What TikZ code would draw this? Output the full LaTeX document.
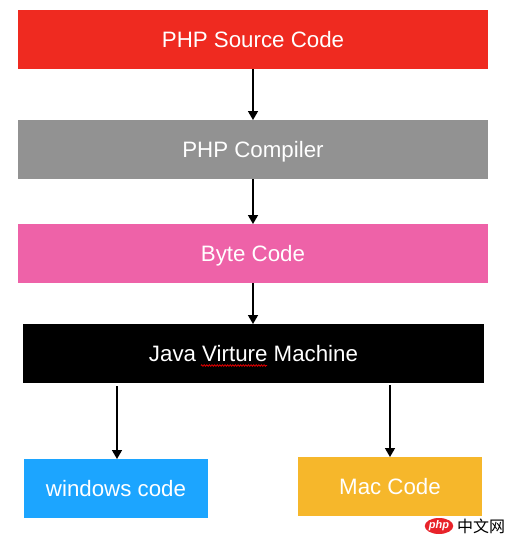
\documentclass[tikz,border=0pt]{standalone}
\usepackage{fontspec}
\setmainfont{Liberation Sans}
\newfontfamily\cjkf{Noto Sans CJK SC}
\usetikzlibrary{arrows.meta,decorations.pathmorphing,shapes.geometric}
\definecolor{cred}{HTML}{EF2A20}
\definecolor{cgray}{HTML}{929292}
\definecolor{cpink}{HTML}{EE62A8}
\definecolor{cblue}{HTML}{1CA5FF}
\definecolor{corange}{HTML}{F6B72B}
\definecolor{clogo}{HTML}{E8232A}
\tikzset{
  box/.style={inner sep=0pt,outer sep=0pt,text=white,font=\fontsize{22.3}{24}\selectfont,minimum height=59pt,text height=16pt,text depth=0pt},
  wide/.style={box,minimum width=470pt},
  small/.style={box,minimum width=184pt},
  conn/.style={-{Triangle[length=9pt,width=10pt]},line width=1.5pt,black},
}
\begin{document}
\begin{tikzpicture}[x=1pt,y=-1pt]
\useasboundingbox (0,0) rectangle (506,536);
\node[wide,fill=cred] (src) at (253,39.5) {PHP Source Code};
\node[wide,fill=cgray] (cmp) at (253,149.5) {PHP Compiler};
\node[wide,fill=cpink] (byte) at (253,253.5) {Byte Code};
\node[box,minimum width=461pt,fill=black] (jvm) at (253.5,353.5) {Java Virture Machine};
\node[small,fill=cblue] (win) at (116,488.5) {windows code};
\node[small,fill=corange] (mac) at (390,486.5) {Mac Code};
\coordinate (wa) at (117,386);
\coordinate (ma) at (390,385);
\draw[conn] (src) -- (cmp);
\draw[conn] (cmp) -- (byte);
\draw[conn] (byte) -- (byte |- jvm.north);
\draw[conn] (wa) -- (wa |- win.north);
\draw[conn] (ma) -- (mac.north);
\coordinate (sqa) at (201,365.5);
\coordinate (sqb) at (267,365.5);
\draw[red!85!black,line width=0.8pt,decorate,decoration={zigzag,segment length=2.6pt,amplitude=0.8pt}] (sqa) -- (sqb);
\node[fill=clogo,ellipse,inner sep=0pt,minimum width=28pt,minimum height=16pt,text=white,font=\fontsize{11}{12}\selectfont\itshape\bfseries] (logo) at (439,526) {php};
\node[anchor=west,inner sep=0pt,text=black,font=\cjkf\fontsize{16}{18}\selectfont] (wm) at (457,526.5) {中文网};
\end{tikzpicture}
\end{document}
